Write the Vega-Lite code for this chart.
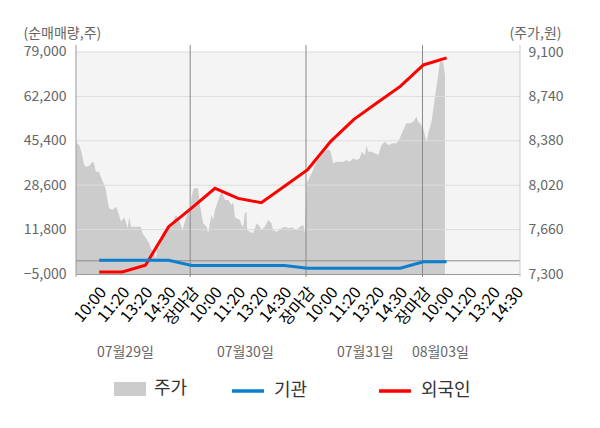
{
  "$schema": "https://vega.github.io/schema/vega-lite/v6.json",
  "width": 444,
  "height": 229,
  "autosize": {"type": "none"},
  "padding": {"left": 76, "top": 45, "right": 80, "bottom": 154},
  "config": {"font": "Noto Sans CJK KR", "view": {"stroke": null}},
  "datasets": {
    "price": [
      {"u": -10, "price": 8365}, {"u": -8.6, "price": 8346}, {"u": -7.9, "price": 8305}, {"u": -7.2, "price": 8251},
      {"u": -6.5, "price": 8184}, {"u": -5.7, "price": 8170}, {"u": -4.3, "price": 8176}, {"u": -2.9, "price": 8211},
      {"u": -2.2, "price": 8198}, {"u": -1.4, "price": 8129}, {"u": 0, "price": 8129}, {"u": 0.7, "price": 8089},
      {"u": 2.2, "price": 8022}, {"u": 2.9, "price": 7981}, {"u": 3.6, "price": 7900}, {"u": 4.3, "price": 7833},
      {"u": 5.8, "price": 7819}, {"u": 7.2, "price": 7846}, {"u": 7.9, "price": 7819}, {"u": 8.6, "price": 7778},
      {"u": 9.4, "price": 7724}, {"u": 10.8, "price": 7760}, {"u": 11.5, "price": 7724}, {"u": 12.3, "price": 7671},
      {"u": 13, "price": 7765}, {"u": 13.7, "price": 7684}, {"u": 14.4, "price": 7684}, {"u": 18, "price": 7684},
      {"u": 18.7, "price": 7630}, {"u": 20.2, "price": 7589}, {"u": 21.6, "price": 7549}, {"u": 22.3, "price": 7508},
      {"u": 23.8, "price": 7468}, {"u": 24.5, "price": 7427}, {"u": 25.2, "price": 7535}, {"u": 25.9, "price": 7495},
      {"u": 26.6, "price": 7562}, {"u": 27.4, "price": 7630}, {"u": 28.8, "price": 7657}, {"u": 30.2, "price": 7673},
      {"u": 31.7, "price": 7722}, {"u": 33.1, "price": 7778}, {"u": 34.5, "price": 7738}, {"u": 36, "price": 7657},
      {"u": 37.4, "price": 7752}, {"u": 38.9, "price": 7819}, {"u": 39.2, "price": 7738}, {"u": 39.9, "price": 7927},
      {"u": 40.6, "price": 7981}, {"u": 41.3, "price": 7995}, {"u": 42.7, "price": 7995}, {"u": 43.5, "price": 7859},
      {"u": 44.9, "price": 7711}, {"u": 46.4, "price": 7684}, {"u": 47.1, "price": 7630}, {"u": 47.8, "price": 7711},
      {"u": 48.5, "price": 7778}, {"u": 49.2, "price": 7738}, {"u": 50, "price": 7819}, {"u": 51.4, "price": 7900},
      {"u": 52.8, "price": 7967}, {"u": 53.5, "price": 7941}, {"u": 54.3, "price": 7900}, {"u": 55.7, "price": 7900},
      {"u": 57.2, "price": 7859}, {"u": 57.9, "price": 7886}, {"u": 58.6, "price": 7765}, {"u": 59.3, "price": 7752},
      {"u": 60.8, "price": 7738}, {"u": 61.5, "price": 7697}, {"u": 62.2, "price": 7684}, {"u": 62.9, "price": 7792},
      {"u": 63.6, "price": 7805}, {"u": 63.9, "price": 7657}, {"u": 65.1, "price": 7643}, {"u": 66.5, "price": 7630},
      {"u": 68, "price": 7711}, {"u": 69.4, "price": 7684}, {"u": 70.1, "price": 7657}, {"u": 71.5, "price": 7684},
      {"u": 73, "price": 7738}, {"u": 74.4, "price": 7711}, {"u": 75.1, "price": 7657}, {"u": 76.6, "price": 7643},
      {"u": 78.8, "price": 7671}, {"u": 80.2, "price": 7684}, {"u": 81.6, "price": 7671}, {"u": 83.1, "price": 7679},
      {"u": 85.2, "price": 7657}, {"u": 86.7, "price": 7684}, {"u": 88.1, "price": 7697}, {"u": 88.8, "price": 7630},
      {"u": 89.6, "price": 8035}, {"u": 91, "price": 8089}, {"u": 92.4, "price": 8143}, {"u": 93.9, "price": 8211},
      {"u": 95.3, "price": 8238}, {"u": 96.7, "price": 8279}, {"u": 98.2, "price": 8305}, {"u": 99.6, "price": 8305},
      {"u": 100.3, "price": 8265}, {"u": 101, "price": 8198}, {"u": 102.5, "price": 8211}, {"u": 103.9, "price": 8211},
      {"u": 105.4, "price": 8211}, {"u": 106.8, "price": 8224}, {"u": 108.2, "price": 8211}, {"u": 109.7, "price": 8238},
      {"u": 111.1, "price": 8224}, {"u": 112.6, "price": 8238}, {"u": 113.3, "price": 8292}, {"u": 114.7, "price": 8265},
      {"u": 115.5, "price": 8346}, {"u": 116.1, "price": 8292}, {"u": 117.6, "price": 8292}, {"u": 119, "price": 8279},
      {"u": 120.5, "price": 8265}, {"u": 121.9, "price": 8346}, {"u": 123.4, "price": 8373}, {"u": 124.8, "price": 8346},
      {"u": 126.9, "price": 8360}, {"u": 128.4, "price": 8360}, {"u": 129.8, "price": 8400}, {"u": 131.3, "price": 8468},
      {"u": 132.7, "price": 8522}, {"u": 134.2, "price": 8522}, {"u": 135.6, "price": 8535}, {"u": 137, "price": 8575},
      {"u": 137.7, "price": 8535}, {"u": 138.5, "price": 8522}, {"u": 139.9, "price": 8481}, {"u": 140.6, "price": 8427},
      {"u": 141.4, "price": 8373}, {"u": 142.1, "price": 8441}, {"u": 143.5, "price": 8535}, {"u": 144.9, "price": 8725},
      {"u": 146.4, "price": 8913}, {"u": 147.1, "price": 9021}, {"u": 148.5, "price": 9021}, {"u": 149.3, "price": 8913}
    ],
    "inv": [
      {"u": 0, "series": "외국인", "v": -4200}, {"u": 10, "series": "외국인", "v": -4200},
      {"u": 20, "series": "외국인", "v": -1700}, {"u": 30, "series": "외국인", "v": 12900},
      {"u": 40, "series": "외국인", "v": 20000}, {"u": 50, "series": "외국인", "v": 27400},
      {"u": 60, "series": "외국인", "v": 23600}, {"u": 70, "series": "외국인", "v": 22000},
      {"u": 80, "series": "외국인", "v": 28200}, {"u": 90, "series": "외국인", "v": 34500},
      {"u": 100, "series": "외국인", "v": 45200}, {"u": 110, "series": "외국인", "v": 53500},
      {"u": 120, "series": "외국인", "v": 59800}, {"u": 130, "series": "외국인", "v": 66000},
      {"u": 140, "series": "외국인", "v": 74100}, {"u": 150, "series": "외국인", "v": 76800},
      {"u": 0, "series": "기관", "v": 200}, {"u": 10, "series": "기관", "v": 200},
      {"u": 20, "series": "기관", "v": 200}, {"u": 30, "series": "기관", "v": 200},
      {"u": 40, "series": "기관", "v": -1800}, {"u": 50, "series": "기관", "v": -1800},
      {"u": 60, "series": "기관", "v": -1800}, {"u": 70, "series": "기관", "v": -1800},
      {"u": 80, "series": "기관", "v": -1800}, {"u": 90, "series": "기관", "v": -2800},
      {"u": 100, "series": "기관", "v": -2800}, {"u": 110, "series": "기관", "v": -2800},
      {"u": 120, "series": "기관", "v": -2800}, {"u": 130, "series": "기관", "v": -2800},
      {"u": 140, "series": "기관", "v": -350}, {"u": 150, "series": "기관", "v": -350}
    ]
  },
  "resolve": {"scale": {"y": "independent"}, "axis": {"x": "independent"}},
  "layer": [
    {
      "data": {"values": [{}]},
      "mark": {"type": "rect", "color": "#f4f4f4"},
      "encoding": {
        "x": {"datum": -10, "type": "quantitative", "scale": {"domain": [-10, 181.7], "nice": false, "zero": false},
          "axis": {"orient": "bottom", "values": [11.1, 62.9, 114.7, 147.1],
            "labelExpr": "datum.value < 30 ? '07월29일' : datum.value < 80 ? '07월30일' : datum.value < 130 ? '07월31일' : '08월03일'",
            "labelAngle": 0, "labelFontSize": 14, "labelColor": "#666666", "domain": false, "ticks": false, "tickSize": 0,
            "grid": false, "offset": 69, "labelPadding": 2, "labelBaseline": "top", "labelAlign": "center", "title": null,
            "labelOverlap": false, "labelFlush": false}},
        "x2": {"datum": 181.7},
        "y": {"datum": -5000, "type": "quantitative", "scale": {"domain": [-5000, 81648.6], "nice": false, "zero": false}, "axis": null},
        "y2": {"datum": 79000}
      }
    },
    {
      "data": {"name": "price"},
      "mark": {"type": "area", "fill": "#cccccc"},
      "encoding": {
        "x": {"field": "u", "type": "quantitative", "scale": {"domain": [-10, 181.7], "nice": false, "zero": false}, "axis": null},
        "y": {"field": "price", "type": "quantitative", "scale": {"domain": [7300, 9156.76], "nice": false, "zero": false},
          "axis": {"orient": "right", "values": [7300, 7660, 8020, 8380, 8740, 9100], "format": ",.0f", "labelFontSize": 14,
            "labelColor": "#666666", "labelPadding": 8, "ticks": false, "tickSize": 0, "domain": false, "grid": false,
            "labelOverlap": false, "title": "(주가,원)", "titleAngle": 0, "titleAlign": "left", "titleBaseline": "middle",
            "titleX": -11, "titleY": -12, "titleFontSize": 14, "titleFontWeight": "normal", "titleColor": "#666666"}},
        "y2": {"datum": 7300},
        "fill": {"datum": "주가", "type": "nominal",
          "scale": {"domain": ["주가"], "range": ["#cccccc"]},
          "legend": {"orient": "none", "legendX": 38, "legendY": 328, "direction": "horizontal", "title": null,
            "symbolType": "M-1,-0.4375H1V0.4375H-1Z", "symbolSize": 1024, "symbolStrokeWidth": 0, "symbolFillColor": "#cccccc",
            "labelFontSize": 18, "labelColor": "#333333", "labelOffset": 8, "padding": 0}}
      }
    },
    {
      "data": {"values": [{}]},
      "mark": {"type": "rule", "color": "#dddddd", "strokeWidth": 1},
      "encoding": {"y": {"datum": 11800, "type": "quantitative", "scale": {"domain": [-5000, 81648.6], "nice": false, "zero": false}, "axis": null}}
    },
    {
      "data": {"values": [{}]},
      "mark": {"type": "rule", "color": "#dddddd", "strokeWidth": 1},
      "encoding": {"y": {"datum": 28600, "type": "quantitative", "scale": {"domain": [-5000, 81648.6], "nice": false, "zero": false}, "axis": null}}
    },
    {
      "data": {"values": [{}]},
      "mark": {"type": "rule", "color": "#dddddd", "strokeWidth": 1},
      "encoding": {"y": {"datum": 45400, "type": "quantitative", "scale": {"domain": [-5000, 81648.6], "nice": false, "zero": false}, "axis": null}}
    },
    {
      "data": {"values": [{}]},
      "mark": {"type": "rule", "color": "#dddddd", "strokeWidth": 1},
      "encoding": {"y": {"datum": 62200, "type": "quantitative", "scale": {"domain": [-5000, 81648.6], "nice": false, "zero": false}, "axis": null}}
    },
    {
      "data": {"values": [{}]},
      "mark": {"type": "rule", "color": "#dddddd", "strokeWidth": 1},
      "encoding": {"y": {"datum": 79000, "type": "quantitative", "scale": {"domain": [-5000, 81648.6], "nice": false, "zero": false}, "axis": null}}
    },
    {
      "data": {"values": [{}]},
      "mark": {"type": "rule", "color": "#8c8c8c", "strokeWidth": 1},
      "encoding": {"y": {"datum": 0, "type": "quantitative", "scale": {"domain": [-5000, 81648.6], "nice": false, "zero": false}, "axis": null}}
    },
    {
      "data": {"values": [{}]},
      "mark": {"type": "rule", "color": "#999999", "strokeWidth": 1},
      "encoding": {
        "x": {"datum": -10, "type": "quantitative", "scale": {"domain": [-10, 181.7], "nice": false, "zero": false}, "axis": null},
        "y": {"datum": 81648.6, "type": "quantitative", "scale": {"domain": [-5000, 81648.6], "nice": false, "zero": false}, "axis": null},
        "y2": {"datum": -6135}
      }
    },
    {
      "data": {"values": [{}]},
      "mark": {"type": "rule", "color": "#888888", "strokeWidth": 1},
      "encoding": {
        "x": {"datum": 39.3, "type": "quantitative", "scale": {"domain": [-10, 181.7], "nice": false, "zero": false}, "axis": null},
        "y": {"datum": 81648.6, "type": "quantitative", "scale": {"domain": [-5000, 81648.6], "nice": false, "zero": false}, "axis": null},
        "y2": {"datum": -6135}
      }
    },
    {
      "data": {"values": [{}]},
      "mark": {"type": "rule", "color": "#888888", "strokeWidth": 1},
      "encoding": {
        "x": {"datum": 89.3, "type": "quantitative", "scale": {"domain": [-10, 181.7], "nice": false, "zero": false}, "axis": null},
        "y": {"datum": 81648.6, "type": "quantitative", "scale": {"domain": [-5000, 81648.6], "nice": false, "zero": false}, "axis": null},
        "y2": {"datum": -6135}
      }
    },
    {
      "data": {"values": [{}]},
      "mark": {"type": "rule", "color": "#888888", "strokeWidth": 1},
      "encoding": {
        "x": {"datum": 139.6, "type": "quantitative", "scale": {"domain": [-10, 181.7], "nice": false, "zero": false}, "axis": null},
        "y": {"datum": 81648.6, "type": "quantitative", "scale": {"domain": [-5000, 81648.6], "nice": false, "zero": false}, "axis": null},
        "y2": {"datum": -6135}
      }
    },
    {
      "data": {"values": [{}]},
      "mark": {"type": "rule", "color": "#cccccc", "strokeWidth": 1},
      "encoding": {
        "x": {"datum": 181.7, "type": "quantitative", "scale": {"domain": [-10, 181.7], "nice": false, "zero": false}, "axis": null},
        "y": {"datum": 81648.6, "type": "quantitative", "scale": {"domain": [-5000, 81648.6], "nice": false, "zero": false}, "axis": null},
        "y2": {"datum": -6135}
      }
    },
    {
      "data": {"name": "inv"},
      "mark": {"type": "line", "strokeWidth": 3},
      "encoding": {
        "x": {"field": "u", "type": "quantitative", "scale": {"domain": [-10, 181.7], "nice": false, "zero": false},
          "axis": {"orient": "bottom", "values": [0, 10, 20, 30, 40, 50, 60, 70, 80, 90, 100, 110, 120, 130, 140, 150, 160, 170, 180],
            "labelExpr": "['10:00','11:20','13:20','14:30','장마감'][round(datum.value/10)%5]",
            "labelAngle": -50, "labelFontSize": 16, "labelAlign": "right", "labelBaseline": "middle",
            "labelPadding": 15, "labelOffset": 3.7, "ticks": false, "tickSize": 0,
            "domainColor": "#999999", "grid": false, "title": null, "labelOverlap": false, "labelFlush": false, "labelBound": false,
            "encode": {"labels": {"update": {"fill": {"signal": "round(datum.value) % 50 == 40 ? '#ff0000' : (datum.value == 150 ? '#222222' : '#666666')"}}}}}},
        "y": {"field": "v", "type": "quantitative", "scale": {"domain": [-5000, 81648.6], "nice": false, "zero": false},
          "axis": {"orient": "left", "values": [-5000, 11800, 28600, 45400, 62200, 79000], "format": ",.0f", "labelFontSize": 14,
            "labelColor": "#666666", "labelPadding": 10, "ticks": false, "tickSize": 0, "domain": false, "grid": false,
            "labelOverlap": false, "title": "(순매매량,주)", "titleAngle": 0, "titleAlign": "left", "titleBaseline": "middle",
            "titleX": -53, "titleY": -12, "titleFontSize": 14, "titleFontWeight": "normal", "titleColor": "#666666"}},
        "stroke": {"field": "series", "type": "nominal",
          "scale": {"domain": ["기관", "외국인"], "range": ["#0b7fcd", "#ff0000"]},
          "legend": {"orient": "none", "legendX": 154, "legendY": 328, "direction": "horizontal", "title": null,
            "symbolType": "stroke", "symbolSize": 1024, "symbolStrokeWidth": 3.5,
            "labelFontSize": 18, "labelColor": "#333333", "labelOffset": 8, "columnPadding": 64, "padding": 0}}
      }
    }
  ]
}
